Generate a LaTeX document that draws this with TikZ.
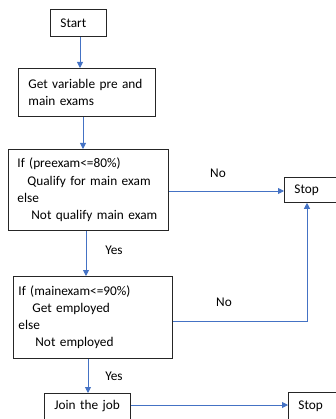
\documentclass[tikz,border=0pt]{standalone}
\usepackage{fontspec}
\setmainfont{Carlito}
\usetikzlibrary{arrows.meta}
\definecolor{flowblue}{HTML}{4472C4}
\begin{document}
\begin{tikzpicture}[x=1pt,y=-1pt,
  box/.style={draw=black!85, line width=0.8pt, rectangle, anchor=north west,
    inner ysep=0pt, align=left, font=\fontsize{13.3}{17.2}\selectfont},
  flow/.style={draw=flowblue, line width=0.9pt, -{Triangle[length=6pt,width=6pt]}},
  lbl/.style={font=\fontsize{13.3}{17}\selectfont, inner sep=0pt}]
\useasboundingbox (0,0) rectangle (336,419);
\clip (0,0) rectangle (336,419);

% process and decision boxes
\node[box, inner xsep=10pt, minimum width=56pt, text width=36pt, minimum height=27pt]
  (start) at (50,9) {\mbox{Start}};
\node[box, inner xsep=10pt, minimum width=137pt, text width=117pt, minimum height=48pt]
  (getvar) at (18,68) {\mbox{Get variable pre and}\\\mbox{main exams}};
\node[box, inner xsep=9pt, minimum width=160pt, text width=142pt, minimum height=81pt]
  (ifpre) at (8,149) {\mbox{If (preexam<=80\%)}\\\mbox{\hspace{10pt}Qualify for main exam}\\else\\\mbox{\hspace{14pt}Not qualify main exam}};
\node[box, inner xsep=5pt, minimum width=159pt, text width=149pt, minimum height=82pt]
  (ifmain) at (13,276) {\mbox{If (mainexam<=90\%)}\\\mbox{\hspace{14pt}Get employed}\\else\\\mbox{\hspace{17pt}Not employed}};
\node[box, inner xsep=10pt, minimum width=86pt, text width=66pt, minimum height=26pt]
  (join) at (44,393) {\mbox{Join the job}};
\node[box, inner xsep=10pt, minimum width=60pt, text width=40pt, minimum height=25pt]
  (stopa) at (284,177) {\mbox{Stop}};
\node[box, inner xsep=10pt, minimum width=60pt, text width=40pt, minimum height=27pt]
  (stopb) at (288,392) {\mbox{Stop}};

% connectors
\draw[flow] (start.south -| 80,0) -- (getvar.north -| 80,0);
\draw[flow] (getvar.south -| 83,0) -- (ifpre.north -| 83,0);
\draw[flow] (ifpre.east |- 0,191) -- (stopa.west |- 0,191);
\draw[flow] (ifpre.south -| 86,0) -- (ifmain.north -| 86,0);
\coordinate (bend) at (307,321);
\draw[flow] (ifmain.east |- bend) -- (bend) -- (stopa.south -| bend);
\draw[flow] (ifmain.south -| 88,0) -- (join.north -| 88,0);
\draw[flow] (join.east |- 0,405) -- (stopb.west |- 0,405);

% branch labels
\node[lbl] (no1) at (218,173) {No};
\node[lbl] (yes1) at (114,250) {Yes};
\node[lbl] (no2) at (224,302) {No};
\node[lbl] (yes2) at (114,376) {Yes};
\end{tikzpicture}
\end{document}
